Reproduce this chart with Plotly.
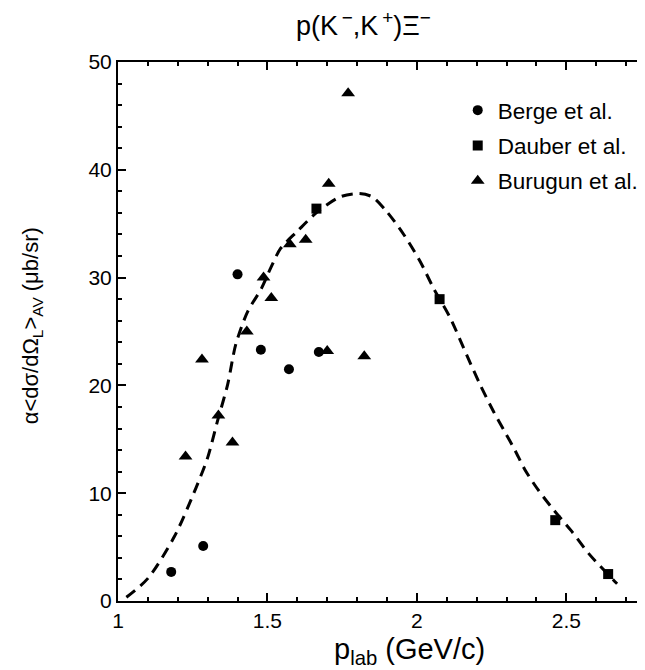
import plotly.graph_objects as go

# Data
berge_x = [1.178, 1.285, 1.40, 1.478, 1.572, 1.672]
berge_y = [2.7, 5.1, 30.3, 23.3, 21.5, 23.1]

dauber_x = [1.664, 2.076, 2.463, 2.64]
dauber_y = [36.4, 28.0, 7.5, 2.5]

burugun_x = [1.226, 1.281, 1.336, 1.383, 1.431, 1.487, 1.513, 1.575, 1.628, 1.70, 1.705, 1.77, 1.824]
burugun_y = [13.4, 22.4, 17.2, 14.7, 25.0, 30.0, 28.1, 33.1, 33.5, 23.2, 38.7, 47.1, 22.7]

curve_x = [1.028, 1.10, 1.189, 1.261, 1.30, 1.333, 1.367, 1.394, 1.433, 1.48, 1.511, 1.544,
           1.60, 1.667, 1.744, 1.806, 1.85, 1.90, 1.956, 2.011, 2.056, 2.111, 2.167, 2.211,
           2.256, 2.294, 2.328, 2.361, 2.406, 2.456, 2.517, 2.578, 2.656, 2.67]
curve_y = [0.35, 2.1, 6.0, 10.5, 13.3, 16.7, 20.1, 23.8, 26.8, 29.0, 30.9, 32.7,
           34.3, 36.1, 37.5, 37.8, 37.5, 36.1, 34.0, 31.5, 29.0, 26.3, 22.8, 20.1,
           17.6, 15.7, 14.0, 12.2, 10.3, 8.5, 6.5, 4.3, 2.0, 1.6]

x_ticks = [1, 1.5, 2, 2.5]
x_ticklabels = ["1", "1.5", "2", "2.5"]
y_ticks = [0, 10, 20, 30, 40, 50]

FONT = "Liberation Sans, Arial, sans-serif"

# plot area in pixels
L, R, T, B = 110, 644, 54, 593
W, H = 645, 670


def px(xpix):
    return (xpix - L) / (R - L)


def py(ypix):
    return (B - ypix) / (B - T)


fig = go.Figure()

fig.add_trace(go.Scatter(
    x=curve_x, y=curve_y, mode="lines", showlegend=False,
    line=dict(color="black", width=3, dash="11px,7px", shape="spline", smoothing=0.8),
    hoverinfo="skip"))

fig.add_trace(go.Scatter(
    x=berge_x, y=berge_y, mode="markers", name="Berge et al.",
    legendgroup="a", marker=dict(symbol="circle", size=10, color="black")))
fig.add_trace(go.Scatter(
    x=dauber_x, y=dauber_y, mode="markers", name="Dauber et al.",
    legendgroup="b", marker=dict(symbol="square", size=10, color="black")))
fig.add_trace(go.Scatter(
    x=burugun_x, y=burugun_y, mode="markers", name="Burugun et al.",
    legendgroup="c", marker=dict(symbol="triangle-up", size=12, color="black")))

axis_common = dict(
    showline=True, linecolor="black", linewidth=2, mirror="ticks",
    ticks="inside", tickcolor="black", tickwidth=2, ticklen=8,
    showgrid=False, zeroline=False,
    tickfont=dict(family=FONT, size=21, color="black"),
)

fig.update_xaxes(
    range=[1, 1 + (R - L) / 300.0],
    tickvals=x_ticks, ticktext=x_ticklabels,
    minor=dict(dtick=0.1, tick0=1, ticks="inside", ticklen=4, tickcolor="black", tickwidth=1.5),
    **axis_common)
fig.update_yaxes(
    range=[0, 50],
    tickvals=y_ticks,
    minor=dict(dtick=2, tick0=0, ticks="inside", ticklen=4, tickcolor="black", tickwidth=1.5),
    **axis_common)

annotations = [
    dict(text="p(K<sup>\u2009\u2212</sup>,K<sup>\u2009+</sup>)\u039e<sup>\u2212</sup>",
         x=px(356), y=py(16), xref="paper", yref="paper",
         showarrow=False, font=dict(family=FONT, size=27, color="black"),
         xanchor="center", yanchor="middle"),
    dict(text="p<sub>lab</sub> (GeV/c)",
         x=px(403), y=py(643), xref="paper", yref="paper",
         showarrow=False, font=dict(family=FONT, size=29, color="black"),
         xanchor="center", yanchor="middle"),
    dict(text="\u03b1<d\u03c3/d\u03a9<sub>L</sub>><sub>AV</sub> (\u03bcb/sr)",
         x=px(24), y=py(318), xref="paper", yref="paper", textangle=-90,
         showarrow=False, font=dict(family=FONT, size=22, color="black"),
         xanchor="center", yanchor="middle"),
]

fig.update_layout(
    width=W, height=H,
    margin=dict(l=L, r=W - R, t=T, b=H - B, pad=0),
    paper_bgcolor="white", plot_bgcolor="white",
    font=dict(family=FONT, color="black"),
    showlegend=True,
    legend=dict(
        x=px(451), y=py(81), xanchor="left", yanchor="top",
        bgcolor="rgba(0,0,0,0)", borderwidth=0,
        font=dict(family=FONT, size=22.5, color="black"),
        traceorder="grouped", tracegroupgap=3,
        itemwidth=30,
    ),
    annotations=annotations,
)

fig.write_html("out.html")
